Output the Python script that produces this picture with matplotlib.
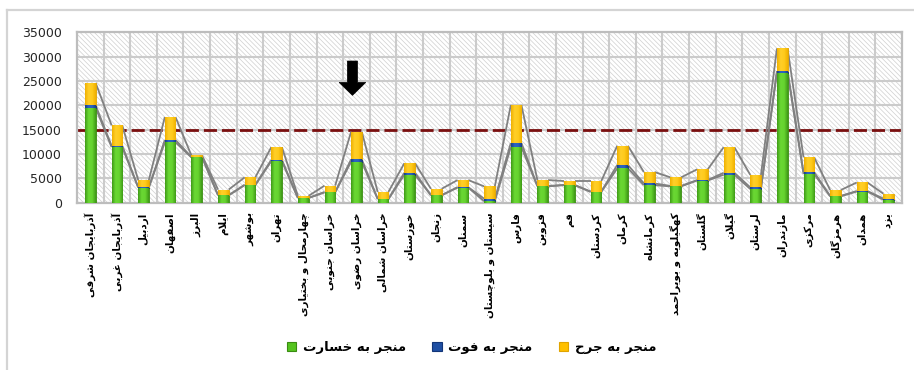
import matplotlib
matplotlib.use("Agg")
import matplotlib.pyplot as plt
from matplotlib.patches import Rectangle, Patch, Polygon
from matplotlib.lines import Line2D
from matplotlib.colors import LinearSegmentedColormap
import numpy as np

# ---------------------------------------------------------------- data
provinces = [
    "آذربایجان شرقی", "آذربایجان غربی", "اردبیل", "اصفهان", "البرز", "ایلام",
    "بوشهر", "تهران", "چهارمحال و بختیاری", "خراسان جنوبی", "خراسان رضوی",
    "خراسان شمالی", "خوزستان", "زنجان", "سمنان", "سیستان و بلوچستان", "فارس",
    "قزوین", "قم", "کردستان", "کرمان", "کرمانشاه", "کهگیلویه و بویراحمد",
    "گلستان", "گیلان", "لرستان", "مازندران", "مرکزی", "هرمزگان", "همدان", "یزد",
]
damage = [19500, 11400, 3100, 12400, 9300, 1500, 3600, 8500, 950, 2100, 8400,
          700, 5750, 1500, 3100, 300, 11400, 3350, 3600, 2200, 7050, 3600,
          3350, 4550, 5750, 2800, 26700, 5900, 1300, 2300, 600]
fatal = [500, 300, 100, 500, 100, 50, 100, 300, 50, 100, 500,
         100, 400, 50, 100, 500, 850, 100, 50, 100, 700, 350,
         100, 100, 400, 350, 350, 350, 100, 100, 250]
injury = [4600, 4200, 1450, 4700, 300, 1150, 1500, 2600, 400, 1300, 5700,
          1400, 1950, 1300, 1450, 2550, 7800, 1200, 800, 2150, 3950, 2350,
          1750, 2200, 5250, 2550, 4650, 3050, 1200, 1750, 1000]
series_names = ["منجر به خسارت", "منجر به فوت", "منجر به جرح"]
threshold = 15000
marked_province = "خراسان رضوی"
y_ticks = [0, 5000, 10000, 15000, 20000, 25000, 30000, 35000]

# ------------------------------------------- Persian contextual shaping
# (isolated, final, initial, medial) presentation forms
FORMS = {
    "ا": ("\uFE8D", "\uFE8E", None, None),
    "آ": ("\uFE81", "\uFE82", None, None),
    "ب": ("\uFE8F", "\uFE90", "\uFE91", "\uFE92"),
    "ت": ("\uFE95", "\uFE96", "\uFE97", "\uFE98"),
    "ج": ("\uFE9D", "\uFE9E", "\uFE9F", "\uFEA0"),
    "ح": ("\uFEA1", "\uFEA2", "\uFEA3", "\uFEA4"),
    "خ": ("\uFEA5", "\uFEA6", "\uFEA7", "\uFEA8"),
    "د": ("\uFEA9", "\uFEAA", None, None),
    "ذ": ("\uFEAB", "\uFEAC", None, None),
    "ر": ("\uFEAD", "\uFEAE", None, None),
    "ز": ("\uFEAF", "\uFEB0", None, None),
    "س": ("\uFEB1", "\uFEB2", "\uFEB3", "\uFEB4"),
    "ش": ("\uFEB5", "\uFEB6", "\uFEB7", "\uFEB8"),
    "ص": ("\uFEB9", "\uFEBA", "\uFEBB", "\uFEBC"),
    "ض": ("\uFEBD", "\uFEBE", "\uFEBF", "\uFEC0"),
    "غ": ("\uFECD", "\uFECE", "\uFECF", "\uFED0"),
    "ف": ("\uFED1", "\uFED2", "\uFED3", "\uFED4"),
    "ق": ("\uFED5", "\uFED6", "\uFED7", "\uFED8"),
    "ل": ("\uFEDD", "\uFEDE", "\uFEDF", "\uFEE0"),
    "م": ("\uFEE1", "\uFEE2", "\uFEE3", "\uFEE4"),
    "ن": ("\uFEE5", "\uFEE6", "\uFEE7", "\uFEE8"),
    "ه": ("\uFEE9", "\uFEEA", "\uFEEB", "\uFEEC"),
    "و": ("\uFEED", "\uFEEE", None, None),
    "ی": ("\uFBFC", "\uFBFD", "\uFBFE", "\uFBFF"),
    "ک": ("\uFB8E", "\uFB8F", "\uFB90", "\uFB91"),
    "گ": ("\uFB92", "\uFB93", "\uFB94", "\uFB95"),
    "چ": ("\uFB7A", "\uFB7B", "\uFB7C", "\uFB7D"),
}
LAM_ALEF = {"ا": ("\uFEFB", "\uFEFC"), "آ": ("\uFEF5", "\uFEF6")}


def joins_next(c):
    f = FORMS.get(c)
    return f is not None and f[2] is not None


def shape(text):
    out, prev, i, n = [], None, 0, len(text)
    while i < n:
        c = text[i]
        if c not in FORMS:
            out.append(c)
            prev = None
            i += 1
            continue
        nxt = text[i + 1] if i + 1 < n else None
        cp = prev is not None and joins_next(prev)
        if c == "ل" and nxt in LAM_ALEF:
            iso, fin = LAM_ALEF[nxt]
            out.append(fin if cp else iso)
            prev = "ا"
            i += 2
            continue
        cn = joins_next(c) and nxt in FORMS
        iso, fin, ini, med = FORMS[c]
        out.append(med if (cp and cn) else fin if cp else ini if cn else iso)
        prev = c
        i += 1
    return "".join(reversed(out))


# ---------------------------------------------------------------- figure
fig = plt.figure(figsize=(9.14, 3.70), dpi=100)
fig.patch.set_facecolor("white")

# chart-area frame (top and left edges visible)
fig.add_artist(Line2D([7 / 914, 1.0], [1 - 10 / 370, 1 - 10 / 370],
                      transform=fig.transFigure, color="#d4d4d4", lw=1.6))
fig.add_artist(Line2D([7 / 914, 7 / 914], [0.0, 1 - 10 / 370],
                      transform=fig.transFigure, color="#d4d4d4", lw=1.6))

ax = fig.add_axes([77 / 914, 1 - 202.7 / 370, 825 / 914, 170.4 / 370])
ax.set_facecolor("white")

plt.rcParams["hatch.linewidth"] = 0.5
ax.add_patch(Rectangle((0, 0), 1, 1, transform=ax.transAxes, facecolor="white",
                       edgecolor="#cfcfcf", hatch="\\\\\\\\\\\\\\", lw=0, zorder=0))

n = len(provinces)
x = np.arange(n)

# grid
for yv in y_ticks[1:-1]:
    ax.axhline(yv, color="#cbcbcb", lw=1.5, zorder=1)
for xv in np.arange(n - 1) + 0.5:
    ax.axvline(xv, color="#cbcbcb", lw=1.5, zorder=1)
for s in ax.spines.values():
    s.set_color("#bdbdbd")
    s.set_linewidth(1.6)

# threshold line (behind the bars)
ax.axhline(threshold, color="#7a0f0f", lw=2.0, dashes=(4.7, 1.8), zorder=2)

# stacked bars with a cylindrical shading
width = 0.4
d = np.array(damage, float)
f = np.array(fatal, float)
j = np.array(injury, float)
colors = ["#55c41f", "#1f4fa3", "#ffc000"]
edges = ["#3a8c12", "#123578", "#e0a400"]
shades = [["#3f9a17", "#6ad834", "#66d32f", "#3f9a17"],
          ["#163f88", "#2c63c2", "#2a60bd", "#163f88"],
          ["#f0b000", "#ffcf2a", "#ffcb1c", "#f0b000"]]
grad = np.linspace(0, 1, 64).reshape(1, -1)
bottoms = [np.zeros(n), d, d + f]
for vals, b, c, e, sh in zip([d, f, j], bottoms, colors, edges, shades):
    bars = ax.bar(x, vals, width, bottom=b, color=c, edgecolor=e, lw=0.6, zorder=4)
    cmap = LinearSegmentedColormap.from_list("shade", sh)
    for r in bars:
        im = ax.imshow(grad, cmap=cmap, aspect="auto", zorder=4.5,
                       extent=[r.get_x(), r.get_x() + r.get_width(),
                               r.get_y(), r.get_y() + r.get_height()])
        im.set_clip_path(r)

# series lines joining the stacked levels of adjacent bars
for level in [d, d + f, d + f + j]:
    for i in range(n - 1):
        ax.plot([x[i] + width / 2, x[i + 1] - width / 2],
                [level[i], level[i + 1]], color="#808080", lw=1.3,
                solid_capstyle="butt", zorder=3)

ax.set_xlim(-0.5, n - 0.5)
ax.set_ylim(y_ticks[0], y_ticks[-1])

# down arrow marking one province
ai = provinces.index(marked_province) - 0.15
tip, head_base, top = 22050, 24700, 29100
sw, hw = 0.19, 0.5
ax.add_patch(Polygon([(ai - sw, top), (ai + sw, top), (ai + sw, head_base),
                      (ai + hw, head_base), (ai, tip), (ai - hw, head_base),
                      (ai - sw, head_base)], closed=True, facecolor="black",
                     edgecolor="black", lw=0.5, zorder=6))

# axes ticks
ax.set_yticks(y_ticks)
ax.set_yticklabels([str(v) for v in y_ticks], fontsize=9, color="#262626",
                   family="DejaVu Sans")
ax.tick_params(axis="y", length=0, pad=11)
ax.set_xticks(x)
ax.set_xticklabels([shape(p) for p in provinces], rotation=90, fontsize=7.5,
                   fontweight="bold", family="DejaVu Sans", va="top", ha="center")
ax.tick_params(axis="x", length=0, pad=7)

# legend
handles = [Patch(facecolor=c, edgecolor=e, lw=0.8) for c, e in zip(colors, edges)]
fig.legend(handles, [shape(s) for s in series_names], loc="center",
           bbox_to_anchor=(0.516, 0.06), ncol=3, frameon=False,
           prop={"family": "DejaVu Sans", "weight": "bold", "size": 9.5},
           handlelength=0.7, handleheight=0.7, handletextpad=0.5,
           columnspacing=2.0)

fig.savefig("out.png", dpi=100)
